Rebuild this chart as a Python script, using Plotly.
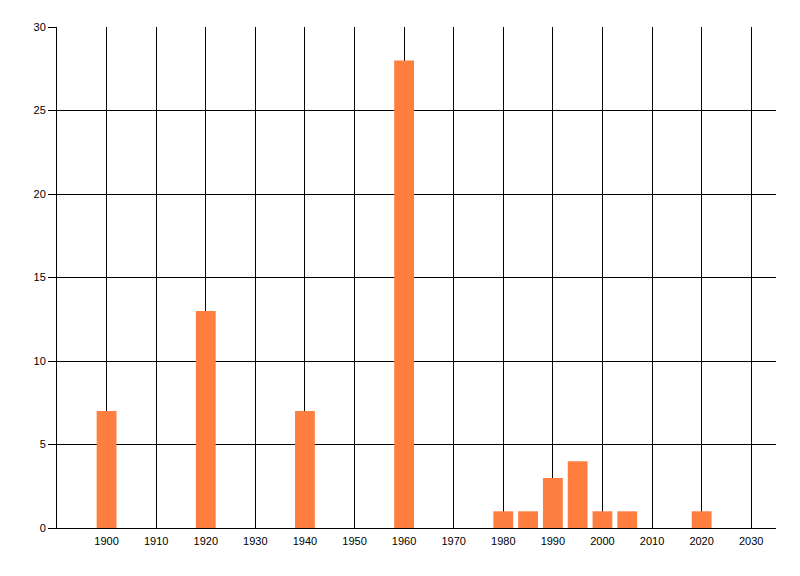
import plotly.graph_objects as go

years = [1900, 1920, 1940, 1960, 1980, 1985, 1990, 1995, 2000, 2005, 2020]
counts = [7, 13, 7, 28, 1, 1, 3, 4, 1, 1, 1]
x_ticks = list(range(1900, 2031, 10))
y_ticks = [0, 5, 10, 15, 20, 25, 30]

fig = go.Figure(go.Bar(x=years, y=counts, width=4, marker=dict(color="#FF7F40", line=dict(width=0))))

fig.update_layout(
    width=800, height=576,
    margin=dict(l=49, r=32, t=19, b=56),
    paper_bgcolor="white", plot_bgcolor="white",
    font=dict(family="Liberation Sans, Arial", size=11, color="black"),
    showlegend=False,
)
fig.update_xaxes(
    range=[1890, 2035], tickmode="array", tickvals=x_ticks, ticktext=[str(v) for v in x_ticks],
    showgrid=True, gridcolor="black", gridwidth=1,
    showline=True, linecolor="black", linewidth=1,
    ticks="", zeroline=False, ticklabelstandoff=3,
)
fig.update_yaxes(
    range=[0, 30], tickmode="array", tickvals=y_ticks,
    showgrid=True, gridcolor="black", gridwidth=1,
    showline=True, linecolor="black", linewidth=1,
    ticks="outside", ticklen=8, tickcolor="black", tickwidth=1,
    zeroline=False,
)
fig.write_html("out.html")
